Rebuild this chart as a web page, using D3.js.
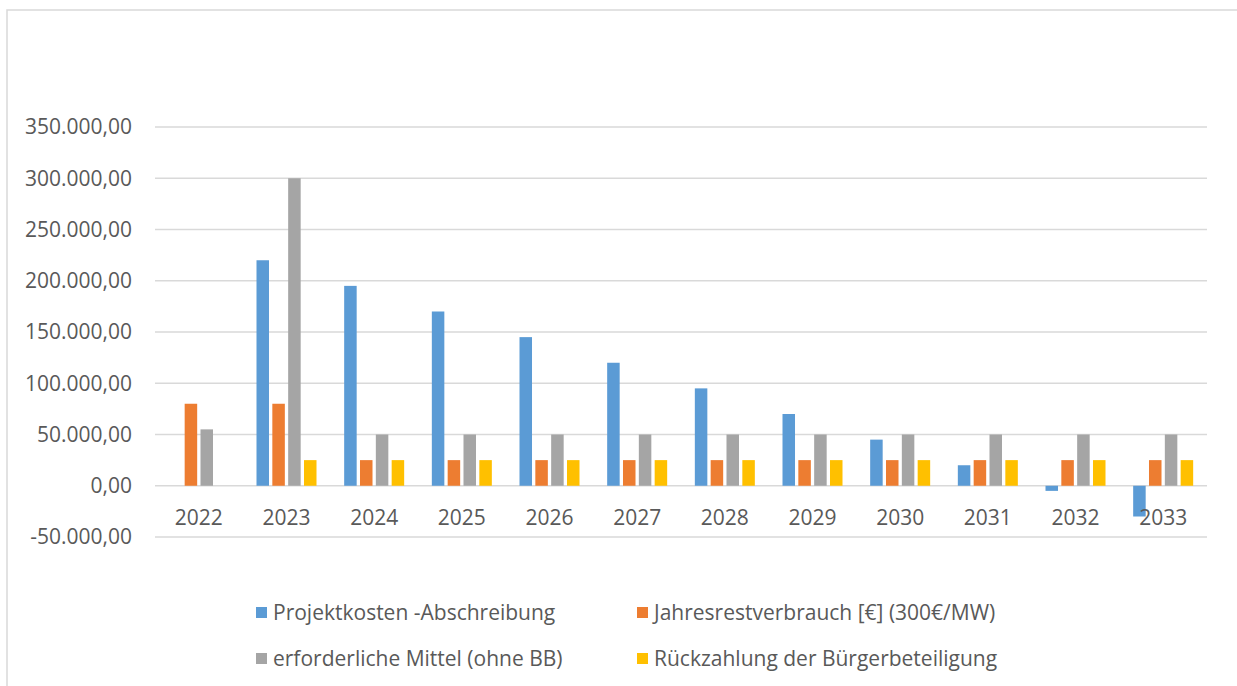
<!DOCTYPE html>
<html>
<head>
<meta charset="utf-8">
<script src="https://cdn.jsdelivr.net/npm/d3@7"></script>
<style>
  body { margin: 0; background: #fff; }
  svg { display: block; font-family: "Open Sans", "Noto Sans", sans-serif; }
</style>
</head>
<body>
<svg id="canvas" width="1237" height="686"></svg>
<script>
const years = ["2022", "2023", "2024", "2025", "2026", "2027", "2028", "2029", "2030", "2031", "2032", "2033"];
const seriesNames = [
  "Projektkosten -Abschreibung",
  "Jahresrestverbrauch [€] (300€/MW)",
  "erforderliche Mittel (ohne BB)",
  "Rückzahlung der Bürgerbeteiligung",
];
const projektkosten = [0, 220000, 195000, 170000, 145000, 120000, 95000, 70000, 45000, 20000, -5000, -30000];
const jahresrest = [80000, 80000, 25000, 25000, 25000, 25000, 25000, 25000, 25000, 25000, 25000, 25000];
const erforderlich = [55000, 300000, 50000, 50000, 50000, 50000, 50000, 50000, 50000, 50000, 50000, 50000];
const rueckzahlung = [0, 25000, 25000, 25000, 25000, 25000, 25000, 25000, 25000, 25000, 25000, 25000];
const yTicks = [-50000, 0, 50000, 100000, 150000, 200000, 250000, 300000, 350000];
const colors = ["#5b9bd5", "#ed7d31", "#a5a5a5", "#ffc000"];

const seriesValues = [projektkosten, jahresrest, erforderlich, rueckzahlung];

const svg = d3.select("#canvas");

// chart frame
svg.append("rect")
  .attr("x", 7).attr("y", 10)
  .attr("width", 1240).attr("height", 690)
  .attr("fill", "none")
  .attr("stroke", "#d9d9d9")
  .attr("stroke-width", 1.5);

const left = 155, right = 1207;
const x0 = d3.scaleBand().domain(years).range([left, right]).padding(0);
const x1 = d3.scaleBand().domain(d3.range(4)).range([-30, 30]).paddingInner(0.21);
const y = d3.scaleLinear().domain([-50000, 350000]).range([537, 127]);

const fmt = (v) => {
  const s = d3.format(",.2f")(v);
  return s.replace(/,/g, "#").replace(".", ",").replace(/#/g, ".").replace("−", "-");
};

// gridlines
svg.append("g")
  .selectAll("line")
  .data(yTicks)
  .join("line")
  .attr("x1", left).attr("x2", right)
  .attr("y1", (d) => y(d)).attr("y2", (d) => y(d))
  .attr("stroke", "#d9d9d9")
  .attr("stroke-width", 1.5);

// y labels
svg.append("g")
  .selectAll("text")
  .data(yTicks)
  .join("text")
  .attr("x", 132)
  .attr("y", (d) => y(d))
  .attr("dy", "0.35em")
  .attr("text-anchor", "end")
  .attr("fill", "#595959")
  .style("font-size", "21px")
  .text(fmt);

// bars
const groups = svg.append("g")
  .selectAll("g")
  .data(years)
  .join("g")
  .attr("transform", (d) => `translate(${x0(d) + x0.bandwidth() / 2},0)`);

groups.selectAll("rect")
  .data((d, i) => seriesValues.map((vals, s) => ({ s, v: vals[i] })))
  .join("rect")
  .filter((d) => d.v !== 0)
  .attr("x", (d) => x1(d.s))
  .attr("width", x1.bandwidth())
  .attr("y", (d) => y(Math.max(0, d.v)))
  .attr("height", (d) => Math.abs(y(d.v) - y(0)))
  .attr("fill", (d) => colors[d.s]);

// x labels
svg.append("g")
  .selectAll("text")
  .data(years)
  .join("text")
  .attr("x", (d) => x0(d) + x0.bandwidth() / 2)
  .attr("y", 518)
  .attr("dy", "0.35em")
  .attr("text-anchor", "middle")
  .attr("fill", "#595959")
  .style("font-size", "21px")
  .text((d) => d);

// legend
const legendPos = [[256, 613], [637, 613], [256, 659], [637, 659]];
const legend = svg.append("g")
  .selectAll("g")
  .data(seriesNames)
  .join("g")
  .attr("transform", (d, i) => `translate(${legendPos[i][0]},${legendPos[i][1]})`);

legend.append("rect")
  .attr("x", 0).attr("y", -6)
  .attr("width", 11).attr("height", 11)
  .attr("fill", (d, i) => colors[i]);

legend.append("text")
  .attr("x", 17)
  .attr("dy", "0.35em")
  .attr("fill", "#595959")
  .style("font-size", "21px")
  .text((d) => d);
</script>
</body>
</html>
